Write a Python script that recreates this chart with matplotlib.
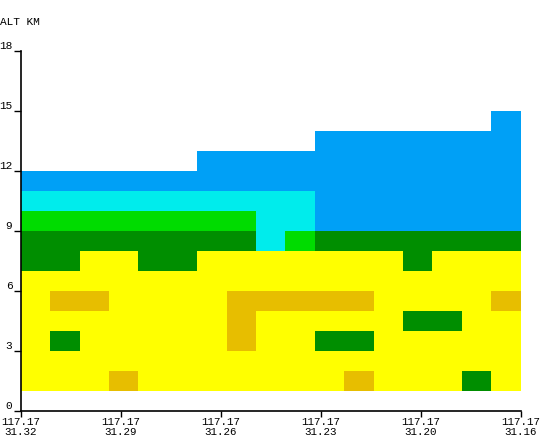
import numpy as np
import matplotlib
matplotlib.use("Agg")
import matplotlib.pyplot as plt
from matplotlib.colors import ListedColormap, BoundaryNorm

# Category colours: 1 yellow, 2 gold, 3 dark green, 4 green, 5 cyan, 6 blue
category_colors = ["#FFFF00", "#E7BE00", "#008E00", "#00DC00", "#00ECEC", "#00A0F6"]

# echo category per 1-km layer (17 columns), layer k spans k..k+1 km
alt_00 = [0] * 17
alt_01 = [1, 1, 1, 2, 1, 1, 1, 1, 1, 1, 1, 2, 1, 1, 1, 3, 1]
alt_02 = [1] * 17
alt_03 = [1, 3, 1, 1, 1, 1, 1, 2, 1, 1, 3, 3, 1, 1, 1, 1, 1]
alt_04 = [1, 1, 1, 1, 1, 1, 1, 2, 1, 1, 1, 1, 1, 3, 3, 1, 1]
alt_05 = [1, 2, 2, 1, 1, 1, 1, 2, 2, 2, 2, 2, 1, 1, 1, 1, 2]
alt_06 = [1] * 17
alt_07 = [3, 3, 1, 1, 3, 3, 1, 1, 1, 1, 1, 1, 1, 3, 1, 1, 1]
alt_08 = [3, 3, 3, 3, 3, 3, 3, 3, 5, 4, 3, 3, 3, 3, 3, 3, 3]
alt_09 = [4, 4, 4, 4, 4, 4, 4, 4, 5, 5, 6, 6, 6, 6, 6, 6, 6]
alt_10 = [5, 5, 5, 5, 5, 5, 5, 5, 5, 5, 6, 6, 6, 6, 6, 6, 6]
alt_11 = [6] * 17
alt_12 = [0, 0, 0, 0, 0, 0, 6, 6, 6, 6, 6, 6, 6, 6, 6, 6, 6]
alt_13 = [0] * 10 + [6] * 7
alt_14 = [0] * 16 + [6]

x_tick_labels = ["117.17\n31.32", "117.17\n31.29", "117.17\n31.26",
                 "117.17\n31.23", "117.17\n31.20", "117.17\n31.16"]
y_ticks = [0, 3, 6, 9, 12, 15, 18]

grid = np.array([alt_00, alt_01, alt_02, alt_03, alt_04, alt_05, alt_06, alt_07,
                 alt_08, alt_09, alt_10, alt_11, alt_12, alt_13, alt_14], dtype=float)
grid = np.ma.masked_where(grid == 0, grid)
ncols = grid.shape[1]
nrows = grid.shape[0]

fig = plt.figure(figsize=(5.4, 4.4), dpi=100)
ax = fig.add_axes([20.7 / 540, 29 / 440, 500 / 540, 360 / 440])

cmap = ListedColormap(category_colors)
norm = BoundaryNorm(np.arange(0.5, 7.5, 1), cmap.N)
ax.pcolormesh(np.arange(ncols + 1), np.arange(nrows + 1), grid, cmap=cmap, norm=norm,
              shading="flat", edgecolor="none", antialiased=False)

ax.set_xlim(0, ncols)
ax.set_ylim(0, 18)
ax.set_xticks(np.linspace(0, ncols, len(x_tick_labels)))
ax.set_xticklabels(x_tick_labels, family="Liberation Mono", fontsize=7.8, linespacing=0.92)
ax.set_yticks(y_ticks)
ax.set_yticklabels([str(v) for v in y_ticks], family="Liberation Mono", fontsize=8)
for lab in ax.get_yticklabels():
    lab.set_verticalalignment("bottom")
ax.tick_params(axis="y", direction="out", length=5, width=1, pad=1)
ax.tick_params(axis="x", direction="out", length=4, width=1, pad=0.5)

for s in ["top", "right"]:
    ax.spines[s].set_visible(False)
for s in ["left", "bottom"]:
    ax.spines[s].set_linewidth(1.2)
    ax.spines[s].set_color("black")

fig.text(0.0, 1 - 22 / 440, "ALT KM", family="Liberation Mono", fontsize=8,
         ha="left", va="center")

fig.savefig("out.png", dpi=100)
